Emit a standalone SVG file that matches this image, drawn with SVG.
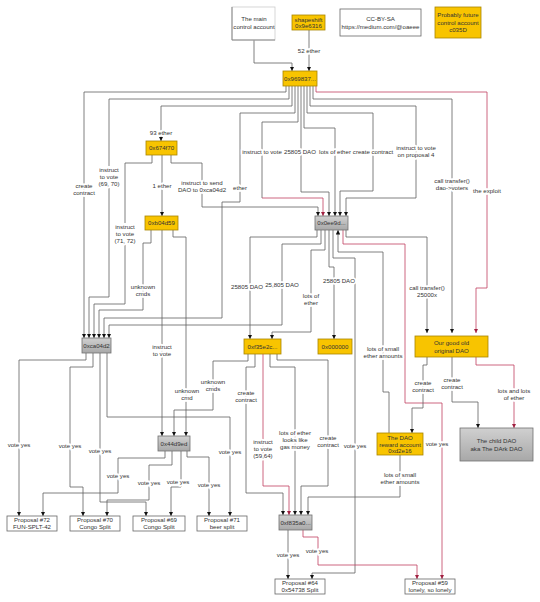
<svg xmlns="http://www.w3.org/2000/svg" width="540" height="602" viewBox="0 0 540 602">
<defs>
<marker id="a" viewBox="0 0 6 6" refX="6" refY="3" markerWidth="4.5" markerHeight="4.5" orient="auto" markerUnits="userSpaceOnUse"><path d="M0,0 L6,3 L0,6 z" fill="#111"/></marker>
<marker id="ar" viewBox="0 0 6 6" refX="6" refY="3" markerWidth="4.5" markerHeight="4.5" orient="auto" markerUnits="userSpaceOnUse"><path d="M0,0 L6,3 L0,6 z" fill="#a02040"/></marker>
<linearGradient id="g" x1="0" y1="0" x2="0" y2="1"><stop offset="0" stop-color="#d0d0d0"/><stop offset="1" stop-color="#a8a8a8"/></linearGradient>
<style>
text{font-family:"Liberation Sans",Arial,sans-serif;font-size:6.1px;fill:#333;text-anchor:middle}
.y{fill:#f8c400;stroke:#a88600;stroke-width:0.8}
.gr{fill:url(#g);stroke:#707070;stroke-width:0.8}
.w{fill:#fff;stroke:#666;stroke-width:0.8}
.e path{fill:none;stroke:#606060;stroke-width:0.8;marker-end:url(#a)}
.e path.r{stroke:#c04060;marker-end:url(#ar)}
.e path.nm{marker-end:none}
.l text{stroke:#fff;stroke-width:3.5px;paint-order:stroke;stroke-linejoin:round}
.bg{fill:#fff}
</style>
</defs>
<rect width="540" height="602" fill="#fff"/>

<g id="connectors" class="e">
<path d="M254,40 V63 H292 V71"/>
<path d="M309,30 V71"/>
<path d="M286,86 V92 H84 V338"/>
<path d="M289,86 V99 H109 V297 H89 V338"/>
<path d="M292,86 V106 H161 V141"/>
<path d="M295,86 V113 H240 V202 H222 V318 H104 V338"/>
<path class="nm" d="M298,86 V122 H262 V198"/>
<path class="r" d="M262,198 H323 V216"/>
<path d="M301,86 V192 H329 V216"/>
<path d="M304,86 V128 H335 V216"/>
<path d="M307,86 V113 H373 V191 H340 V216"/>
<path d="M310,86 V106 H416 V198 H346 V216"/>
<path d="M313,86 V99 H452 V333"/>
<path class="r" d="M316,86 V92 H487 V288 H476 V333"/>
<path d="M162,155 V216"/>
<path d="M171,155 V163 H202 V207 H318 V216"/>
<path d="M152,155 V163 H125 V304 H94 V338"/>
<path d="M151,230 V243 H143 V310 H99 V338"/>
<path d="M162,230 V436"/>
<path d="M173,230 V237 H186 V436"/>
<path d="M86,353 V360 H19 V516"/>
<path d="M93,353 V367 H70 V487 H83 V516"/>
<path d="M100,353 V502 H146 V516"/>
<path d="M107,353 V417 H230 V516"/>
<path d="M248,354 V361 H213 V410 H174 V436"/>
<path d="M255,354 V367 H246 V493 H283 V515"/>
<path class="r" d="M263,354 V486 H289 V515"/>
<path d="M270,354 V367 H295 V515"/>
<path d="M277,354 V360 H328 V486 H301 V515"/>
<path d="M400,455 V497 H308 V515"/>
<path d="M389,433 V392 H383 V252 H338 V230"/>
<path d="M333,230 V258 H355 V573 H312 V579"/>
<path d="M329,230 V267 H334 V339"/>
<path d="M317,230 V237 H250 V339"/>
<path d="M321,230 V244 H282 V325 H109 V338"/>
<path d="M325,230 V250 H311 V332 H272 V339"/>
<path class="r" d="M343,230 V244 H405 V403 H442 V579"/>
<path d="M346,230 V237 H427 V333"/>
<path d="M427,357 V365 H423 V408 H412 V433"/>
<path d="M452,357 V402 H478 V428"/>
<path class="r" d="M476,357 V365 H514 V428"/>
<path d="M288,530 V579"/>
<path class="r" d="M303,530 V537 H318 V565 H417 V579"/>
<path d="M165,451 V458 H118 V493 H43 V516"/>
<path d="M172,451 V465 H149 V500 H107 V516"/>
<path d="M181,451 V487 H171 V516"/>
<path d="M187,451 V457 H209 V516"/>
</g>

<g id="labels" class="l">
<rect class="bg" x="100" y="166" width="18" height="22"/>
<rect class="bg" x="116" y="223" width="18" height="22"/>
<text x="309" y="53">52 ether</text>
<text x="84" y="188">create</text><text x="84" y="195">contract</text>
<text x="109" y="172">instruct</text><text x="109" y="179">to vote</text><text x="109" y="186">(69, 70)</text>
<text x="161" y="135">93 ether</text>
<text x="240" y="190">ether</text>
<text x="262" y="154">instruct to vote</text>
<text x="300" y="154">25805 DAO</text>
<text x="335" y="154">lots of ether</text>
<text x="373" y="154">create contract</text>
<text x="416" y="150">instruct to vote</text><text x="416" y="157">on proposal 4</text>
<text x="452" y="183">call transfer()</text><text x="452" y="190">dao-&gt;voters</text>
<text x="487" y="193">the exploit</text>
<text x="162" y="188">1 ether</text>
<text x="202" y="185">instruct to send</text><text x="202" y="192">DAO to 0xca04d2</text>
<text x="125" y="229">instruct</text><text x="125" y="236">to vote</text><text x="125" y="243">(71, 72)</text>
<text x="143" y="289">unknown</text><text x="143" y="296">cmds</text>
<text x="162" y="349">instruct</text><text x="162" y="356">to vote</text>
<text x="187" y="393">unknown</text><text x="187" y="400">cmd</text>
<text x="247" y="289">25805 DAO</text>
<text x="282" y="287">25,805 DAO</text>
<text x="311" y="298">lots of</text><text x="311" y="305">ether</text>
<text x="339" y="283">25805 DAO</text>
<text x="427" y="290">call transfer()</text><text x="427" y="297">25000x</text>
<text x="383" y="351">lots of small</text><text x="383" y="358">ether amounts</text>
<text x="213" y="384">unknown</text><text x="213" y="391">cmds</text>
<text x="246" y="395">create</text><text x="246" y="402">contract</text>
<text x="423" y="385">create</text><text x="423" y="392">contract</text>
<text x="452" y="382">create</text><text x="452" y="389">contract</text>
<text x="514" y="393">lots and lots</text><text x="514" y="400">of ether</text>
<text x="263" y="444">instruct</text><text x="263" y="451">to vote</text><text x="263" y="458">(59,64)</text>
<text x="295" y="435">lots of ether</text><text x="295" y="442">looks like</text><text x="295" y="449">gas money</text>
<text x="328" y="440">create</text><text x="328" y="447">contract</text>
<text x="355" y="448">vote yes</text>
<text x="437" y="446">vote yes</text>
<text x="400" y="477">lots of small</text><text x="400" y="484">ether amounts</text>
<text x="19" y="447">vote yes</text>
<text x="70" y="448">vote yes</text>
<text x="100" y="453">vote yes</text>
<text x="230" y="454">vote yes</text>
<text x="118" y="478">vote yes</text>
<text x="149" y="485">vote yes</text>
<text x="178" y="484">vote yes</text>
<text x="209" y="487">vote yes</text>
<text x="288" y="557">vote yes</text>
<text x="317" y="553">vote yes</text>
</g>

<g id="n-main"><rect x="232" y="7" width="43" height="33" fill="#fff" stroke="#ccc" stroke-width="0.8"/><path d="M232,7 V40 H275" fill="none" stroke="#888" stroke-width="1"/><text x="254" y="21">The main</text><text x="254" y="29">control account</text></g>
<g id="n-shapeshift"><rect class="y" x="292" y="15" width="33" height="15"/><text x="308.5" y="21.5">shapeshift</text><text x="308.5" y="28">0x9e6316</text></g>
<g id="n-cc"><rect class="w" x="340" y="9" width="81" height="27"/><text x="380.5" y="21">CC-BY-SA</text><text x="380.5" y="29">https://medium.com/@oaeee</text></g>
<g id="n-future"><rect class="y" x="435" y="7" width="46" height="31"/><text x="458" y="17">Probably future</text><text x="458" y="24.5">control account</text><text x="458" y="32">c035D</text></g>
<g id="n-969837"><rect class="y" x="283" y="71" width="34" height="15"/><text x="300" y="80.5">0x969837...</text></g>
<g id="n-674f70"><rect class="y" x="146" y="141" width="31" height="14"/><text x="161.5" y="150">0x674f70</text></g>
<g id="n-b04d59"><rect class="y" x="145" y="216" width="33" height="14"/><text x="161.5" y="225">0xb04d59</text></g>
<g id="n-0ee9d"><rect class="gr" x="315" y="216" width="33" height="14"/><text x="331.5" y="225">0x0ee9d...</text></g>
<g id="n-ca04d2"><rect class="gr" x="82" y="338" width="29" height="15"/><text x="96.5" y="347.5">0xca04d2</text></g>
<g id="n-f35e2c"><rect class="y" x="244" y="339" width="37" height="15"/><text x="262.5" y="348.5">0xf35e2c...</text></g>
<g id="n-000000"><rect class="y" x="318" y="339" width="34" height="15"/><text x="335" y="348.5">0x000000</text></g>
<g id="n-dao"><rect class="y" x="415" y="336" width="73" height="21"/><text x="451.5" y="345">Our good old</text><text x="451.5" y="352.5">original DAO</text></g>
<g id="n-reward"><rect class="y" x="377" y="433" width="46" height="22"/><text x="400" y="440">The DAO</text><text x="400" y="446.5">reward account</text><text x="400" y="453">0xd2e16</text></g>
<g id="n-child"><rect class="gr" x="460" y="428" width="73" height="33"/><text x="496.5" y="443">The child DAO</text><text x="496.5" y="450.5">aka The DArk DAO</text></g>
<g id="n-44d9ed"><rect class="gr" x="158" y="436" width="32" height="15"/><text x="174" y="445.5">0x44d9ed</text></g>
<g id="n-f835a0"><rect class="gr" x="279" y="515" width="33" height="15"/><text x="295.5" y="524.5">0xf835a0...</text></g>
<g id="n-p72"><rect class="w" x="7" y="516" width="50" height="15"/><text x="32" y="522">Proposal #72</text><text x="32" y="529">FUN-SPLT-42</text></g>
<g id="n-p70"><rect class="w" x="70" y="516" width="50" height="15"/><text x="95" y="522">Proposal #70</text><text x="95" y="529">Congo Split</text></g>
<g id="n-p69"><rect class="w" x="133" y="516" width="52" height="15"/><text x="159" y="522">Proposal #69</text><text x="159" y="529">Congo Split</text></g>
<g id="n-p71"><rect class="w" x="197" y="516" width="50" height="15"/><text x="222" y="522">Proposal #71</text><text x="222" y="529">beer split</text></g>
<g id="n-p64"><rect class="w" x="275" y="579" width="50" height="15"/><text x="300" y="585">Proposal #64</text><text x="300" y="592">0x54738 Split</text></g>
<g id="n-p59"><rect class="w" x="405" y="579" width="50" height="15"/><text x="430" y="585">Proposal #59</text><text x="430" y="592">lonely, so lonely</text></g>
</svg>
